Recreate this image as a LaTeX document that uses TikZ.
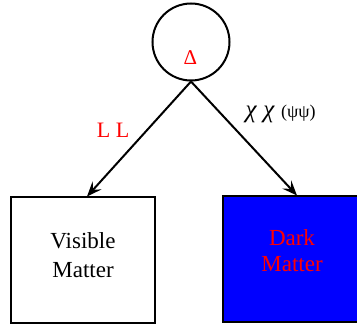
\documentclass[tikz,border=0pt]{standalone}
\usepackage{fontspec}
\setmainfont{Liberation Serif}
\usetikzlibrary{arrows.meta}

\begin{document}
\begin{tikzpicture}[x=1pt,y=1pt,
  decay/.style={line width=2pt,-{Stealth[length=15pt,width=12pt,inset=6pt]}},
  box/.style={draw,line width=2pt,minimum height=126pt},
  boxtext/.style={align=center,font=\fontsize{23}{29}\selectfont}]
  \useasboundingbox (0,0) rectangle (357,324);
  % source blob and its label
  \node[circle,draw,line width=2pt,minimum size=77pt,inner sep=0pt] (parent) at (191,282) {};
  \node[text=red,font=\fontsize{21}{24}\selectfont] (delta) at (190.5,266) {Δ};
  % the two final states
  \node[box,minimum width=144pt] (vis) at (83,63.5) {};
  \node[boxtext] (vistext) at ([yshift=5pt]vis.center) {Visible\\Matter};
  \node[box,minimum width=138pt,fill=blue] (dark) at (292,64.5) {};
  \node[boxtext,text=red,font=\fontsize{23}{26}\selectfont] (darktext) at ([yshift=9pt]dark.center) {Dark\\Matter};
  % decay channels
  \draw[decay] (parent.south) -- ([xshift=4pt]vis.north);
  \draw[decay] (parent.south) -- ([xshift=5pt]dark.north);
  \node[text=red,font=\fontsize{22}{24}\selectfont] (ll) at (113,194) {L L};
  \node[anchor=west,font=\fontsize{25}{28}\selectfont] (chipsi) at (242,210)
    {\textit{χ} \textit{χ} {\fontsize{18}{20}\selectfont(ψψ)}};
\end{tikzpicture}
\end{document}
